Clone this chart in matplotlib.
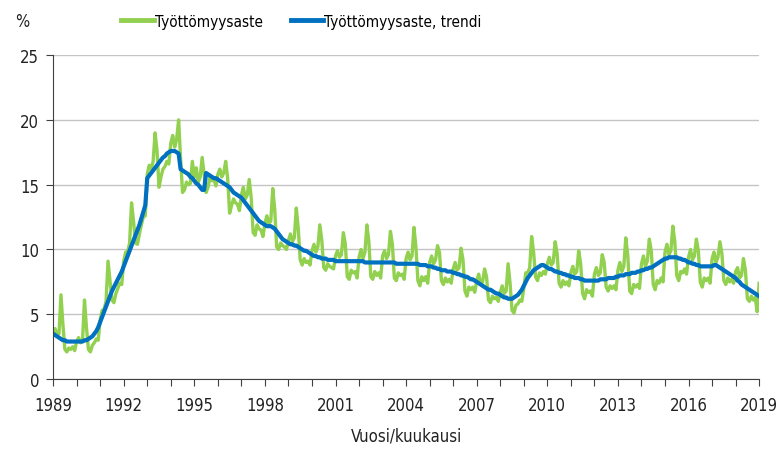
import numpy as np
import matplotlib
matplotlib.use("Agg")
import matplotlib.pyplot as plt
from matplotlib.lines import Line2D

# Monthly unemployment rate (%), Jan 1989 .. Jan 2019
rate = [
    3.6, 3.9, 3.4, 3.5, 6.5, 4.2, 2.3, 2.1, 2.4, 2.3, 2.5, 2.2,        # 1989
    2.9, 3.2, 2.8, 3.0, 6.1, 4.0, 2.3, 2.1, 2.6, 2.8, 3.1, 3.0,        # 1990
    4.6, 5.3, 5.4, 6.0, 9.1, 7.6, 6.1, 5.9, 6.6, 7.0, 7.4, 7.3,        # 1991
    9.1, 9.8, 9.8, 10.5, 13.6, 12.2, 10.5, 10.4, 11.2, 11.9, 12.5, 12.6,  # 1992
    15.8, 16.5, 16.2, 16.8, 19.0, 17.6, 14.8, 15.6, 16.2, 16.4, 16.8, 16.6,  # 1993
    18.2, 18.8, 17.9, 18.5, 20.0, 17.0, 14.4, 14.6, 15.2, 15.0, 15.1, 16.8,  # 1994
    15.6, 16.3, 15.2, 15.6, 17.1, 15.8, 14.4, 14.8, 15.6, 15.3, 15.4, 14.9,  # 1995
    15.8, 16.2, 15.6, 15.9, 16.8, 15.5, 12.8, 13.4, 13.9, 13.6, 13.5, 13.0,  # 1996
    14.2, 14.8, 13.9, 14.2, 15.4, 14.0, 11.3, 11.1, 11.9, 11.6, 11.5, 11.0,  # 1997
    12.0, 12.6, 12.0, 12.2, 14.7, 13.1, 10.2, 10.0, 10.5, 10.3, 10.2, 10.0,  # 1998
    10.7, 11.2, 10.6, 10.9, 13.2, 11.6, 9.2, 8.8, 9.3, 9.0, 9.1, 8.8,  # 1999
    9.9, 10.4, 9.8, 10.2, 11.9, 10.7, 8.6, 8.4, 8.9, 8.7, 8.6, 8.5,    # 2000
    9.5, 9.9, 9.4, 9.6, 11.3, 10.4, 7.9, 7.7, 8.4, 8.2, 8.3, 7.8,      # 2001
    9.4, 10.0, 9.3, 9.8, 11.9, 10.6, 7.9, 7.7, 8.3, 8.0, 8.2, 7.8,     # 2002
    9.5, 9.9, 9.3, 9.6, 11.4, 10.4, 7.8, 7.6, 8.2, 8.0, 8.1, 7.7,      # 2003
    9.3, 9.8, 9.2, 9.5, 11.7, 10.2, 7.6, 7.2, 7.9, 7.6, 7.9, 7.4,      # 2004
    9.0, 9.5, 8.9, 9.2, 10.3, 9.8, 7.6, 7.3, 7.8, 7.5, 7.7, 7.4,       # 2005
    8.5, 9.0, 8.4, 8.6, 10.1, 9.2, 6.8, 6.4, 7.1, 6.9, 7.1, 6.7,       # 2006
    7.6, 8.1, 7.3, 7.5, 8.5, 7.9, 6.1, 5.9, 6.4, 6.2, 6.3, 6.0,        # 2007
    6.7, 7.2, 6.6, 6.8, 8.9, 7.4, 5.3, 5.1, 5.7, 5.8, 6.1, 6.0,        # 2008
    7.0, 8.2, 8.2, 8.6, 11.0, 9.8, 7.9, 7.6, 8.2, 8.0, 8.3, 8.1,       # 2009
    8.9, 9.4, 8.8, 9.0, 10.6, 9.7, 7.4, 7.1, 7.6, 7.3, 7.5, 7.2,       # 2010
    8.2, 8.7, 8.1, 8.3, 9.9, 8.9, 6.6, 6.2, 6.9, 6.7, 6.8, 6.4,        # 2011
    8.1, 8.6, 8.0, 8.2, 9.6, 9.0, 7.1, 6.8, 7.2, 7.0, 7.2, 6.9,        # 2012
    8.4, 9.0, 8.3, 8.7, 10.9, 9.6, 6.8, 6.6, 7.3, 7.1, 7.3, 7.0,       # 2013
    8.9, 9.5, 8.7, 9.1, 10.8, 9.9, 7.3, 6.9, 7.6, 7.4, 7.8, 7.5,       # 2014
    9.8, 10.4, 9.6, 9.9, 11.8, 10.6, 8.0, 7.6, 8.3, 8.2, 8.5, 8.1,     # 2015
    9.4, 10.0, 9.2, 9.5, 10.8, 9.9, 7.5, 7.1, 7.8, 7.6, 7.8, 7.4,      # 2016
    9.3, 9.8, 9.0, 9.4, 10.6, 9.7, 7.6, 7.3, 7.8, 7.5, 7.7, 7.4,       # 2017
    8.3, 8.6, 7.8, 8.0, 9.3, 8.4, 6.2, 6.0, 6.4, 6.1, 6.3, 5.2,        # 2018
    7.4,                                                              # 2019
]

trend = [
    3.5, 3.4, 3.3, 3.2, 3.1, 3.0, 3.0, 2.9, 2.9, 2.9, 2.9, 2.9,
    2.9, 2.9, 2.9, 2.9, 3.0, 3.0, 3.1, 3.2, 3.3, 3.5, 3.7, 4.0,
    4.4, 4.8, 5.2, 5.6, 6.0, 6.4, 6.8, 7.1, 7.4, 7.7, 8.0, 8.3,
    8.7, 9.1, 9.5, 9.9, 10.3, 10.7, 11.1, 11.5, 11.9, 12.4, 12.9, 13.4,
    15.5, 15.7, 15.9, 16.1, 16.3, 16.5, 16.7, 16.9, 17.1, 17.2, 17.4, 17.5,
    17.6, 17.6, 17.6, 17.5, 17.4, 16.2, 16.1, 16.0, 15.9, 15.8, 15.6, 15.5,
    15.3, 15.1, 15.0, 14.8, 14.6, 14.6, 15.9, 15.8, 15.7, 15.6, 15.5, 15.5,
    15.4, 15.3, 15.2, 15.1, 15.0, 14.9, 14.8, 14.6, 14.4, 14.3, 14.2, 14.1,
    14.0, 13.8, 13.6, 13.4, 13.2, 13.0, 12.8, 12.6, 12.4, 12.2, 12.1, 12.0,
    11.9, 11.8, 11.8, 11.8, 11.7, 11.6, 11.4, 11.2, 11.0, 10.8, 10.7, 10.6,
    10.5, 10.4, 10.4, 10.3, 10.3, 10.2, 10.1, 10.0, 9.9, 9.9, 9.8, 9.7,
    9.6, 9.5, 9.5, 9.4, 9.4, 9.3, 9.3, 9.3, 9.2, 9.2, 9.2, 9.2,
    9.1, 9.1, 9.1, 9.1, 9.1, 9.1, 9.1, 9.1, 9.1, 9.1, 9.1, 9.1,
    9.1, 9.1, 9.1, 9.0, 9.0, 9.0, 9.0, 9.0, 9.0, 9.0, 9.0, 9.0,
    9.0, 9.0, 9.0, 9.0, 9.0, 9.0, 9.0, 8.9, 8.9, 8.9, 8.9, 8.9,
    8.9, 8.9, 8.9, 8.9, 8.9, 8.9, 8.9, 8.8, 8.8, 8.8, 8.8, 8.7,
    8.7, 8.7, 8.6, 8.6, 8.5, 8.5, 8.4, 8.4, 8.4, 8.3, 8.3, 8.3,
    8.2, 8.2, 8.1, 8.1, 8.0, 8.0, 7.9, 7.9, 7.8, 7.7, 7.7, 7.6,
    7.5, 7.4, 7.3, 7.2, 7.1, 7.0, 6.9, 6.9, 6.8, 6.7, 6.6, 6.6,
    6.5, 6.4, 6.3, 6.3, 6.2, 6.2, 6.2, 6.3, 6.4, 6.5, 6.7, 6.9,
    7.2, 7.5, 7.8, 8.0, 8.2, 8.4, 8.5, 8.6, 8.7, 8.8, 8.8, 8.7,
    8.6, 8.5, 8.5, 8.4, 8.3, 8.3, 8.2, 8.2, 8.1, 8.1, 8.0, 8.0,
    7.9, 7.9, 7.8, 7.8, 7.8, 7.7, 7.7, 7.6, 7.6, 7.6, 7.6, 7.6,
    7.6, 7.6, 7.6, 7.7, 7.7, 7.7, 7.7, 7.8, 7.8, 7.8, 7.8, 7.9,
    7.9, 8.0, 8.0, 8.0, 8.1, 8.1, 8.1, 8.2, 8.2, 8.2, 8.3, 8.3,
    8.4, 8.4, 8.5, 8.5, 8.6, 8.6, 8.7, 8.8, 8.9, 9.0, 9.1, 9.2,
    9.3, 9.3, 9.4, 9.4, 9.4, 9.4, 9.4, 9.3, 9.3, 9.2, 9.2, 9.1,
    9.0, 9.0, 8.9, 8.9, 8.8, 8.8, 8.7, 8.7, 8.7, 8.7, 8.7, 8.7,
    8.7, 8.8, 8.8, 8.7, 8.6, 8.5, 8.4, 8.3, 8.2, 8.1, 8.0, 7.9,
    7.8, 7.6, 7.5, 7.3, 7.2, 7.1, 7.0, 6.9, 6.8, 6.7, 6.6, 6.5,
    6.4,
]

years = list(range(1989, 2020))
labelYears = list(range(1989, 2020, 3))

green = "#92D050"
blue = "#0070C0"
plt.rcParams["font.family"] = ["DejaVu Sans"]
plt.rcParams["font.stretch"] = "condensed"
fs = 12

fig = plt.figure(figsize=(7.81, 4.52), dpi=100)
ax = fig.add_axes([0.068, 0.159, 0.904, 0.717])

x = np.arange(len(rate))
ax.plot(x, rate, color=green, lw=2.4, solid_joinstyle="round")
ax.plot(x, trend, color=blue, lw=3.0, solid_joinstyle="round")

ax.set_xlim(0, len(rate) - 1)
ax.set_ylim(0, 25)
ax.set_yticks(range(0, 26, 5))
ax.grid(axis="y", color="#C4C4C4", lw=1.0)
ax.set_axisbelow(True)

# one tick per January, label every third year
ax.set_xticks([(y - 1989) * 12 for y in years])
ax.set_xticklabels([str(y) if y in labelYears else "" for y in years])

for s in ["top", "right"]:
    ax.spines[s].set_visible(False)
ax.spines["left"].set_color("#404040")
ax.spines["bottom"].set_color("#404040")
ax.tick_params(axis="both", direction="out", length=5, color="#404040",
               labelsize=fs, colors="#222222")
ax.tick_params(axis="x", pad=7)
ax.tick_params(axis="y", pad=5)

ax.set_xlabel("Vuosi/kuukausi", fontsize=fs, color="#222222", labelpad=9)
fig.text(0.020, 0.951, "%", fontsize=fs, color="#222222", va="center")

handles = [Line2D([0], [0], color=green, lw=3.5),
           Line2D([0], [0], color=blue, lw=3.5)]
fig.legend(handles, ["Työttömyysaste", "Työttömyysaste, trendi"],
           loc="center", bbox_to_anchor=(0.386, 0.951), ncol=2, frameon=False,
           fontsize=11, handlelength=2.1, handletextpad=0.1, columnspacing=1.8)

fig.savefig("out.png", dpi=100)
